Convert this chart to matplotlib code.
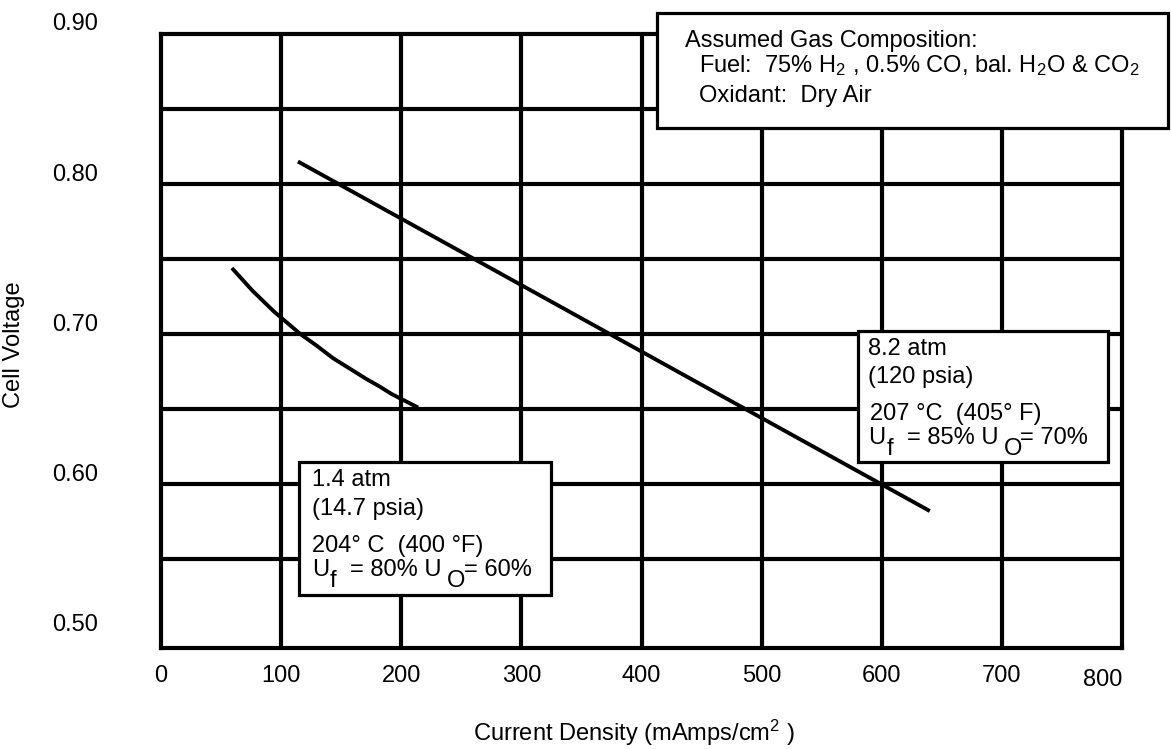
import matplotlib
matplotlib.use("Agg")
import matplotlib.pyplot as plt
import matplotlib.transforms as mtransforms
from matplotlib.patches import Rectangle

plt.rcParams['font.family'] = ['Liberation Sans', 'DejaVu Sans']
plt.rcParams['mathtext.fontset'] = 'custom'
plt.rcParams['mathtext.rm'] = 'Liberation Sans'
plt.rcParams['mathtext.it'] = 'Liberation Sans'

# ---- data ----
x_ticks = [0, 100, 200, 300, 400, 500, 600, 700, 800]
x_ticklabels = ["0", "100", "200", "300", "400", "500", "600", "700", "800"]
y_ticks = [0.50, 0.60, 0.70, 0.80, 0.90]
y_ticklabels = ["0.50", "0.60", "0.70", "0.80", "0.90"]
y_grid = [0.55, 0.60, 0.65, 0.70, 0.75, 0.80, 0.85]

# 8.2 atm (120 psia) curve
hp_current = [114, 640]
hp_voltage = [0.815, 0.582]
# 1.4 atm (14.7 psia) curve
lp_current = [59, 76, 94, 105, 116, 130, 143, 157, 171, 182, 192, 203, 214]
lp_voltage = [0.744, 0.729, 0.715, 0.7075, 0.700, 0.692, 0.684, 0.677, 0.670, 0.665, 0.660, 0.6555, 0.651]

W, H = 1171, 749
fig = plt.figure(figsize=(W / 100, H / 100), dpi=100)

def fx(px):
    return px / W

def fy(py):
    return 1 - py / H

left, right, top, bottom = 161, 1122, 34, 648
ax = fig.add_axes([fx(left), fy(bottom), fx(right) - fx(left), fy(top) - fy(bottom)])
ax.set_xlim(0, 800)
ax.set_ylim(0.4907, 0.90)

FS = 17
GRID_LW = 3.0
for gx in x_ticks[1:-1]:
    ax.axvline(gx, color='black', lw=GRID_LW, zorder=1)
for gy in y_grid:
    ax.axhline(gy, color='black', lw=GRID_LW, zorder=1)
for s in ax.spines.values():
    s.set_linewidth(GRID_LW)

ax.plot(hp_current, hp_voltage, color='black', lw=2.8, solid_capstyle='butt', zorder=3)
ax.plot(lp_current, lp_voltage, color='black', lw=2.8, solid_capstyle='butt',
        solid_joinstyle='round', zorder=3)

ax.set_xticks(x_ticks)
ax.set_xticklabels(x_ticklabels, fontsize=FS)
ax.set_yticks(y_ticks)
ax.set_yticklabels(y_ticklabels, fontsize=FS)
ax.tick_params(axis='both', length=0)
ax.tick_params(axis='x', pad=12)
ax.tick_params(axis='y', pad=45)

# y labels sit slightly above their values
up = mtransforms.ScaledTranslation(0, 12 / 100, fig.dpi_scale_trans)
for lab in ax.get_yticklabels():
    lab.set_transform(lab.get_transform() + up)
last = ax.get_xticklabels()[-1]
last.set_transform(last.get_transform() + mtransforms.ScaledTranslation(-19 / 100, -4 / 100, fig.dpi_scale_trans))

fig.text(fx(14), fy(345), "Cell Voltage", rotation=90, ha='center', va='center', fontsize=FS)
fig.text(fx(634), fy(733), r"Current Density (mAmps/cm$^{\mathregular{2}}$ )", ha='center', va='center', fontsize=FS)

def box(x0, y0, x1, y1):
    r = Rectangle((fx(x0), fy(y1)), fx(x1) - fx(x0), fy(y0) - fy(y1), transform=fig.transFigure,
                  facecolor='white', edgecolor='black', lw=2.3, zorder=5)
    fig.add_artist(r)

def txt(px, py, s):
    fig.text(fx(px), fy(py), s, ha='left', va='baseline', fontsize=FS, zorder=6)

# gas composition box
box(657, 13, 1168, 128)
txt(685, 47, "Assumed Gas Composition:")
txt(699, 72, r"Fuel:  75% H$_{\mathregular{2}}$ , 0.5% CO, bal. H$_{\mathregular{2}}$O & CO$_{\mathregular{2}}$")
txt(699, 102, "Oxidant:  Dry Air")

# 8.2 atm box
box(858, 331, 1108, 462)
txt(868, 355, "8.2 atm")
txt(868, 383, "(120 psia)")
txt(870, 420, "207 °C  (405° F)")
txt(868, 444, "U")
txt(887, 455, "f")
txt(907, 444, "= 85% U")
txt(1004, 455, "O")
txt(1020, 444, "= 70%")

# 1.4 atm box
box(299, 462, 551, 595)
txt(312, 486, "1.4 atm")
txt(312, 515, "(14.7 psia)")
txt(312, 552, "204° C  (400 °F)")
txt(312, 576, "U")
txt(330, 587, "f")
txt(350, 576, "= 80% U")
txt(447, 587, "O")
txt(464, 576, "= 60%")

fig.savefig("out.png", dpi=100)
